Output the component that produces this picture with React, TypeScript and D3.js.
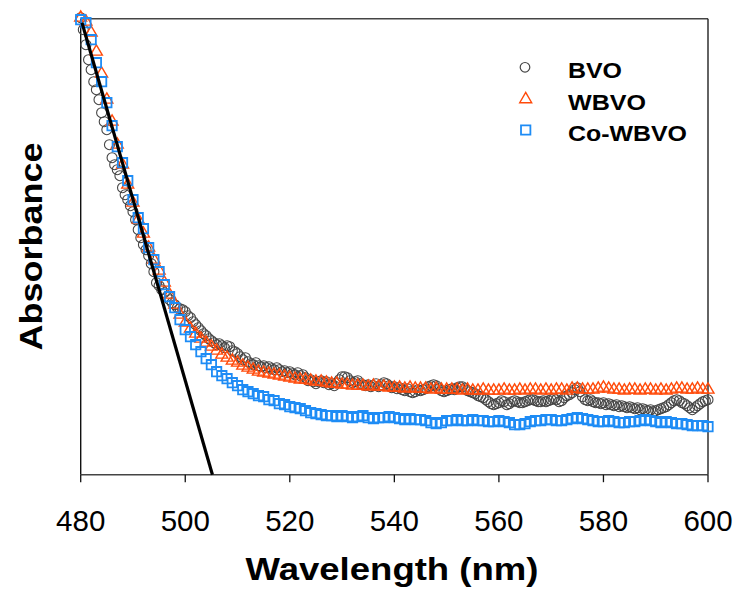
import React from "react";
import * as d3 from "d3";

// ---------- data ----------
const xTicks = [480, 500, 520, 540, 560, 580, 600];
const seriesNames = ["BVO", "WBVO", "Co-WBVO"];

// BVO sampled every 0.5 nm starting at 480 nm
const bvoStart = 480;
const bvoStep = 0.5;
const bvo = [
  0.457, 0.445, 0.430, 0.415, 0.405, 0.393, 0.385, 0.375, 0.362, 0.353,
  0.345, 0.330, 0.317, 0.310, 0.305, 0.299, 0.287, 0.280, 0.275, 0.269,
  0.263, 0.255, 0.245, 0.237, 0.230, 0.225, 0.219, 0.211, 0.203, 0.192,
  0.189, 0.185, 0.182, 0.178, 0.175, 0.172, 0.170, 0.167, 0.166, 0.165,
  0.163, 0.159, 0.157, 0.153, 0.150, 0.147, 0.144, 0.141, 0.139, 0.136,
  0.134, 0.132, 0.130, 0.131, 0.129, 0.127, 0.129, 0.128, 0.124, 0.123,
  0.121, 0.118, 0.115, 0.117, 0.113, 0.111, 0.110, 0.112, 0.109, 0.108,
  0.109, 0.107, 0.108, 0.106, 0.105, 0.107, 0.105, 0.103, 0.104, 0.102,
  0.103, 0.101, 0.100, 0.102, 0.099, 0.100, 0.097, 0.094, 0.095, 0.093,
  0.091, 0.093, 0.094, 0.092, 0.093, 0.090, 0.091, 0.089, 0.092, 0.095,
  0.098, 0.098, 0.097, 0.094, 0.092, 0.093, 0.094, 0.091, 0.090, 0.089,
  0.090, 0.088, 0.089, 0.091, 0.088, 0.090, 0.092, 0.091, 0.089, 0.087,
  0.088, 0.086, 0.087, 0.085, 0.084, 0.086, 0.083, 0.082, 0.083, 0.085,
  0.084, 0.085, 0.086, 0.088, 0.089, 0.090, 0.089, 0.086, 0.084, 0.083,
  0.084, 0.085, 0.086, 0.085, 0.087, 0.088, 0.088, 0.086, 0.084, 0.083,
  0.082, 0.081, 0.079, 0.078, 0.077, 0.075, 0.073, 0.071, 0.070, 0.071,
  0.072, 0.074, 0.073, 0.070, 0.071, 0.073, 0.074, 0.073, 0.072, 0.072,
  0.073, 0.074, 0.075, 0.075, 0.074, 0.073, 0.073, 0.074, 0.073, 0.074,
  0.075, 0.076, 0.075, 0.073, 0.074, 0.077, 0.079, 0.080, 0.082, 0.085,
  0.087, 0.083, 0.078, 0.075, 0.074, 0.075, 0.073, 0.072, 0.072, 0.071,
  0.072, 0.070, 0.071, 0.070, 0.069, 0.070, 0.068, 0.069, 0.068, 0.067,
  0.068, 0.067, 0.066, 0.067, 0.065, 0.066, 0.065, 0.064, 0.065, 0.063,
  0.064, 0.065, 0.066, 0.067, 0.068, 0.070, 0.072, 0.074, 0.075, 0.074,
  0.072, 0.071, 0.069, 0.067, 0.065, 0.067, 0.069, 0.071, 0.073, 0.074,
  0.075,
];

// WBVO and Co-WBVO sampled every 1 nm starting at 480 nm
const wStart = 480;
const wStep = 1;
const wbvo = [
  0.457, 0.453, 0.442, 0.423, 0.401, 0.375, 0.353, 0.330, 0.310, 0.290,
  0.272, 0.255, 0.241, 0.227, 0.215, 0.204, 0.192, 0.180, 0.170, 0.160,
  0.152, 0.146, 0.141, 0.136, 0.132, 0.128, 0.124, 0.120, 0.117, 0.114,
  0.112, 0.109, 0.107, 0.105, 0.103, 0.102, 0.101, 0.100, 0.099, 0.098,
  0.097, 0.096, 0.095, 0.095, 0.094, 0.093, 0.093, 0.092, 0.091, 0.091,
  0.090, 0.090, 0.089, 0.089, 0.089, 0.088, 0.089, 0.088, 0.088, 0.087,
  0.087, 0.087, 0.086, 0.087, 0.086, 0.086, 0.086, 0.085, 0.086, 0.085,
  0.085, 0.085, 0.085, 0.084, 0.085, 0.084, 0.084, 0.085, 0.084, 0.084,
  0.084, 0.085, 0.084, 0.084, 0.085, 0.084, 0.085, 0.085, 0.084, 0.085,
  0.084, 0.085, 0.085, 0.084, 0.086, 0.086, 0.085, 0.085, 0.085, 0.086,
  0.087, 0.086, 0.085, 0.085, 0.084, 0.085, 0.085, 0.084, 0.085, 0.085,
  0.084, 0.085, 0.084, 0.085, 0.086, 0.086, 0.085, 0.085, 0.086, 0.085,
  0.085,
];
const cowbvo = [
  0.455, 0.452, 0.435, 0.412, 0.393, 0.372, 0.349, 0.328, 0.312, 0.294,
  0.275, 0.257, 0.246, 0.227, 0.215, 0.203, 0.190, 0.178, 0.167, 0.155,
  0.145, 0.138, 0.130, 0.123, 0.116, 0.110, 0.103, 0.099, 0.096, 0.092,
  0.089, 0.085, 0.083, 0.081, 0.079, 0.078, 0.075, 0.074, 0.071, 0.070,
  0.068, 0.067, 0.066, 0.064, 0.062, 0.061, 0.060, 0.059, 0.059, 0.058,
  0.059, 0.058, 0.057, 0.058, 0.059, 0.057, 0.056, 0.057, 0.057, 0.058,
  0.057, 0.056, 0.055, 0.056, 0.055, 0.055, 0.054, 0.052, 0.051, 0.052,
  0.054, 0.054, 0.055, 0.054, 0.054, 0.055, 0.054, 0.054, 0.053, 0.053,
  0.054, 0.053, 0.052, 0.050, 0.050, 0.051, 0.053, 0.054, 0.054, 0.055,
  0.055, 0.054, 0.054, 0.055, 0.056, 0.057, 0.056, 0.055, 0.054, 0.053,
  0.053, 0.054, 0.053, 0.052, 0.052, 0.053, 0.053, 0.054, 0.055, 0.054,
  0.053, 0.052, 0.053, 0.052, 0.051, 0.051, 0.050, 0.049, 0.049, 0.049,
  0.048,
];

// linear fit (tangent) line
const fitX = [480.25, 505.2];
const fitY = [0.452, 0.0];

// ---------- layout ----------
const W = 739;
const H = 594;
const left = 80.7;
const right = 708;
const top = 18.7;
const bottom = 474.7;

const FONT = "'Liberation Sans', Arial, Helvetica, sans-serif";
const C_BVO = "#454545";
const C_W = "#FF4A0A";
const C_CO = "#1E8CF5";

export default function App() {
  const x = d3.scaleLinear().domain([480, 600]).range([left, right]);
  const y = d3.scaleLinear().domain([0, 0.456]).range([bottom, top]);

  const tri = d3.symbol().type(d3.symbolTriangle).size(62)() as string;
  const sq = d3.symbol().type(d3.symbolSquare).size(88)() as string;

  const bvoPts = bvo.map((v, i) => [bvoStart + i * bvoStep, v]);
  const wPts = wbvo.map((v, i) => [wStart + i * wStep, v]);
  const coPts = cowbvo.map((v, i) => [wStart + i * wStep, v]);

  const fitLine = d3.line<number>()
    .x((_, i) => x(fitX[i]))
    .y((d) => y(d))(fitY) as string;

  const legendRows = [
    { name: seriesNames[0], y: 67.3 },
    { name: seriesNames[1], y: 99.3 },
    { name: seriesNames[2], y: 130 },
  ];
  const legendTextLen = [54, 78, 119];

  return (
    <svg width={W} height={H} style={{ position: "absolute", left: 0, top: 0, background: "#fff" }}>
      <rect x={0} y={0} width={W} height={H} fill="#fff" />
      {/* frame */}
      <line x1={left} x2={right} y1={top} y2={top} stroke="#444" strokeWidth={1.4} />
      <line x1={right} x2={right} y1={top} y2={bottom} stroke="#222" strokeWidth={1.4} />
      <line x1={left} x2={left} y1={top} y2={bottom} stroke="#111" strokeWidth={1.4} />
      <line x1={left} x2={right} y1={bottom} y2={bottom} stroke="#444" strokeWidth={1.4} />
      {/* x ticks */}
      {xTicks.map((t) => (
        <g key={t}>
          <line x1={x(t)} x2={x(t)} y1={bottom} y2={bottom + 7.5} stroke="#111" strokeWidth={1.3} />
          <text x={x(t)} y={530.5} textAnchor="middle" fontFamily={FONT} fontSize={29.5} fill="#000">
            {t}
          </text>
        </g>
      ))}
      {/* BVO circles */}
      <g fill="none" stroke={C_BVO} strokeWidth={1.1}>
        {bvoPts.map(([a, b], i) => (
          <circle key={i} cx={x(a)} cy={y(b)} r={5} />
        ))}
      </g>
      {/* WBVO triangles */}
      <g fill="none" stroke={C_W} strokeWidth={1.4}>
        {wPts.map(([a, b], i) => (
          <path key={i} d={tri} transform={`translate(${x(a)},${y(b)})`} />
        ))}
      </g>
      {/* Co-WBVO squares */}
      <g fill="none" stroke={C_CO} strokeWidth={1.8}>
        {coPts.map(([a, b], i) => (
          <path key={i} d={sq} transform={`translate(${x(a)},${y(b)})`} />
        ))}
      </g>
      {/* fit line */}
      <path d={fitLine} stroke="#000" strokeWidth={3.2} fill="none" />
      {/* legend */}
      <circle cx={525} cy={legendRows[0].y} r={4.8} fill="none" stroke={C_BVO} strokeWidth={1.2} />
      <path d={tri} transform={`translate(525.7,${legendRows[1].y})`} fill="none" stroke={C_W} strokeWidth={1.4} />
      <path d={sq} transform={`translate(525.7,${legendRows[2].y})`} fill="none" stroke={C_CO} strokeWidth={1.8} />
      {legendRows.map((r, i) => (
        <text
          key={r.name}
          x={568}
          y={r.y + 11}
          fontFamily={FONT}
          fontWeight="bold"
          fontSize={22.5}
          textLength={legendTextLen[i]}
          lengthAdjust="spacingAndGlyphs"
          fill="#000"
        >
          {r.name}
        </text>
      ))}
      {/* axis titles */}
      <text
        x={392}
        y={580}
        textAnchor="middle"
        fontFamily={FONT}
        fontWeight="bold"
        fontSize={30.5}
        textLength={293}
        lengthAdjust="spacingAndGlyphs"
        fill="#000"
      >
        Wavelength (nm)
      </text>
      <text
        transform={`translate(42,246.5) rotate(-90)`}
        textAnchor="middle"
        fontFamily={FONT}
        fontWeight="bold"
        fontSize={32}
        textLength={208}
        lengthAdjust="spacingAndGlyphs"
        fill="#000"
      >
        Absorbance
      </text>
    </svg>
  );
}
